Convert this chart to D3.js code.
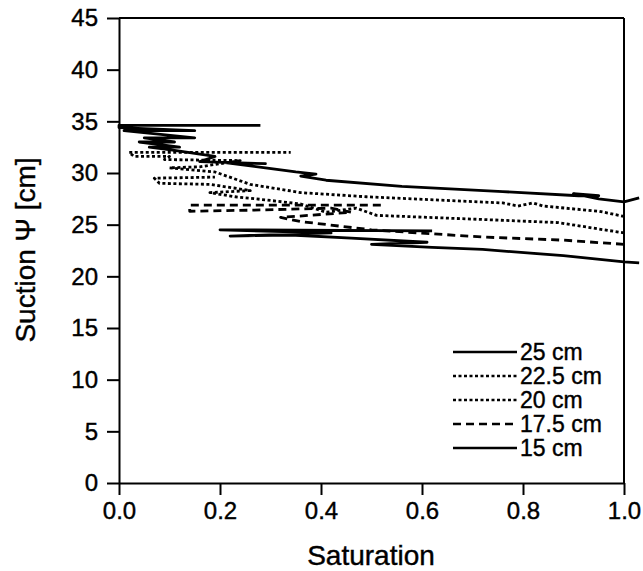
<!DOCTYPE html>
<html>
<head>
<meta charset="utf-8">
<script src="https://cdn.jsdelivr.net/npm/d3@7/dist/d3.min.js"></script>
<style>
  body { margin: 0; background: #fff; }
  text { font-family: "Liberation Sans", Arial, Helvetica, sans-serif; fill: #000; stroke: #000; stroke-width: 0.4px; }
</style>
</head>
<body>
<svg id="chart" width="643" height="571"></svg>
<script>
// tick labels
const xTicks = [0, 0.2, 0.4, 0.6, 0.8, 1.0];
const yTicks = [0, 5, 10, 15, 20, 25, 30, 35, 40, 45];

// series names (legend order)
const seriesNames = ["25 cm", "22.5 cm", "20 cm", "17.5 cm", "15 cm"];

// saturation / suction, traced right to left
const sat25 = [1.03, 1.0, 0.95, 0.9, 0.95, 0.91, 0.76, 0.56, 0.41, 0.36, 0.39, 0.35, 0.29, 0.21, 0.29, 0.16, 0.19, 0.11, 0.06, 0.12, 0.04, 0.11, 0.05, 0.15, 0.01, 0.15, 0.0, 0.0, 0.28];
const psi25 = [27.6, 27.2, 27.5, 28.0, 27.8, 27.8, 28.2, 28.7, 29.3, 29.7, 29.9, 30.1, 30.5, 31.0, 30.9, 31.1, 31.6, 32.2, 32.5, 32.5, 33.0, 33.0, 33.4, 33.4, 34.1, 34.1, 34.4, 34.6, 34.6];

const sat225 = [1.0, 0.95, 0.84, 0.82, 0.79, 0.76, 0.49, 0.36, 0.26, 0.19, 0.10, 0.16, 0.24, 0.09, 0.10, 0.03, 0.02, 0.34];
const psi225 = [25.8, 26.3, 26.8, 27.1, 26.8, 27.1, 27.7, 28.1, 28.9, 30.1, 30.5, 30.6, 31.2, 31.3, 31.6, 31.6, 32.0, 32.0];

const sat20 = [1.0, 0.87, 0.72, 0.51, 0.47, 0.41, 0.36, 0.29, 0.23, 0.18, 0.26, 0.18, 0.08, 0.07, 0.19];
const psi20 = [24.2, 25.2, 25.5, 25.9, 26.6, 26.2, 27.0, 27.4, 27.7, 28.1, 28.3, 28.9, 29.0, 29.5, 29.6];

const sat175 = [1.0, 0.88, 0.72, 0.5, 0.36, 0.32, 0.46, 0.42, 0.26, 0.14, 0.14, 0.52];
const psi175 = [23.1, 23.5, 23.8, 24.5, 25.3, 25.7, 26.2, 26.6, 26.4, 26.3, 26.9, 26.9];

const sat15 = [1.03, 1.0, 0.88, 0.72, 0.62, 0.5, 0.61, 0.46, 0.34, 0.22, 0.42, 0.2, 0.62];
const psi15 = [21.3, 21.4, 22.0, 22.6, 22.8, 23.1, 23.3, 23.7, 24.0, 23.9, 24.2, 24.5, 24.4];

const seriesSat = [sat25, sat225, sat20, sat175, sat15];
const seriesPsi = [psi25, psi225, psi20, psi175, psi15];

function renderChart(svg) {
  const left = 119, right = 624, top = 18, bottom = 483;

  const x = d3.scaleLinear().domain([0, 1]).range([left, right]);
  const y = d3.scaleLinear().domain([0, 45]).range([bottom, top]);

  // line styles per series
  const dash = ["none", "3,2.5", "3,2.5", "8,5", "none"];

  // frame top / right
  svg.append("line").attr("x1", left).attr("x2", right).attr("y1", top).attr("y2", top)
     .attr("stroke", "#000").attr("stroke-width", 2);
  svg.append("line").attr("x1", right).attr("x2", right).attr("y1", top).attr("y2", bottom)
     .attr("stroke", "#000").attr("stroke-width", 2);

  const xAxis = svg.append("g")
     .attr("transform", `translate(0,${bottom})`)
     .call(d3.axisBottom(x).tickValues(xTicks).tickFormat(d3.format(".1f"))
             .tickSize(12).tickSizeOuter(0).tickPadding(7));
  xAxis.selectAll("text").style("font-size", "24px");

  const yAxis = svg.append("g")
     .attr("transform", `translate(${left},0)`)
     .call(d3.axisLeft(y).tickValues(yTicks).tickSize(12).tickSizeOuter(0).tickPadding(9));
  yAxis.selectAll("text").style("font-size", "24px");

  svg.selectAll(".domain, .tick line").attr("stroke", "#000").attr("stroke-width", 2);

  // axis titles
  svg.append("text")
     .attr("x", 371).attr("y", 565)
     .attr("text-anchor", "middle")
     .style("font-size", "28px")
     .text("Saturation");

  svg.append("text")
     .attr("transform", "translate(35,250) rotate(-90)")
     .attr("text-anchor", "middle")
     .style("font-size", "28px")
     .text("Suction \u03A8 [cm]");

  // curves
  const line = d3.line().x(d => x(d[0])).y(d => y(d[1]));
  svg.selectAll(".curve")
     .data(seriesNames)
     .enter().append("path")
     .attr("class", "curve")
     .attr("d", (n, i) => line(seriesSat[i].map((s, j) => [s, seriesPsi[i][j]])))
     .attr("fill", "none")
     .attr("stroke", "#000")
     .attr("stroke-width", 2.8)
     .attr("stroke-linejoin", "round")
     .attr("stroke-dasharray", (n, i) => dash[i]);

  // legend
  const lg = svg.selectAll(".legend")
     .data(seriesNames)
     .enter().append("g")
     .attr("class", "legend")
     .attr("transform", (n, i) => `translate(453,${352 + i * 24})`);
  lg.append("line")
     .attr("x1", 0).attr("x2", 64)
     .attr("stroke", "#000")
     .attr("stroke-width", 2.5)
     .attr("stroke-dasharray", (n, i) => dash[i]);
  lg.append("text")
     .attr("x", 67).attr("dy", "0.36em")
     .style("font-size", "23px")
     .text(n => n);
}

renderChart(d3.select("#chart"));
</script>
</body>
</html>
